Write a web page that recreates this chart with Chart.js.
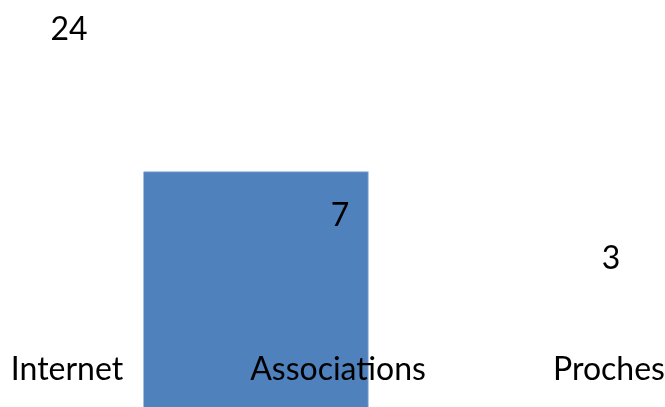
<!DOCTYPE html>
<html>
<head>
<meta charset="utf-8">
<script src="https://cdn.jsdelivr.net/npm/chart.js@4/dist/chart.umd.min.js"></script>
<style>
html,body{margin:0;padding:0;background:#fff;}
#wrap{width:665px;height:407px;position:relative;}
</style>
</head>
<body>
<div id="wrap"><canvas id="c" width="665" height="407"></canvas></div>
<script>
const categories = ['Internet', 'Associations', 'Proches'];
const values = [24, 7, 3];
const barColors = ['rgba(0,0,0,0)', '#4F81BD', 'rgba(0,0,0,0)'];
const barEdgeColors = ['rgba(0,0,0,0)', '#7FA3CF', 'rgba(0,0,0,0)'];

const FONT = 'Lato';

const valueLabels = {
  id: 'valueLabels',
  afterDatasetsDraw(chart) {
    const ctx = chart.ctx;
    const xs = chart.scales.x, ys = chart.scales.y;
    ctx.save();
    ctx.font = '32px ' + FONT;
    ctx.fillStyle = '#000';
    ctx.textAlign = 'center';
    ctx.textBaseline = 'middle';
    values.forEach((v, i) => {
      ctx.fillText(String(v), xs.getPixelForValue(i) + 2, ys.getPixelForValue(v) - 14);
    });
    ctx.restore();
  }
};

new Chart(document.getElementById('c'), {
  type: 'bar',
  data: {
    labels: categories,
    datasets: [{
      data: values.map((v, i) => ({x: i, y: v})),
      backgroundColor: barColors,
      borderColor: barEdgeColors,
      borderWidth: {top: 1, right: 1, left: 0, bottom: 0},
      borderSkipped: false,
      xAxisID: 'xb',
      yAxisID: 'yb',
      barThickness: 225,
      clip: false
    }]
  },
  options: {
    responsive: false,
    animation: false,
    layout: {padding: {left: 67, right: 56, top: 0, bottom: 0}},
    plugins: {legend: {display: false}, tooltip: {enabled: false}},
    scales: {
      x: {
        type: 'category',
        offset: false,
        position: {y: -4.1},
        grid: {display: false, drawTicks: false},
        border: {display: false},
        ticks: {z: 1, padding: 0, color: '#000', font: {family: FONT, size: 32}, maxRotation: 0, autoSkip: false}
      },
      y: {type: 'linear', display: false, min: -9.25, max: 28},
      xb: {type: 'linear', display: false, min: 0.072, max: 2.942},
      yb: {type: 'linear', display: false, min: 0, max: 12.1}
    }
  },
  plugins: [valueLabels]
});
</script>
</body>
</html>
